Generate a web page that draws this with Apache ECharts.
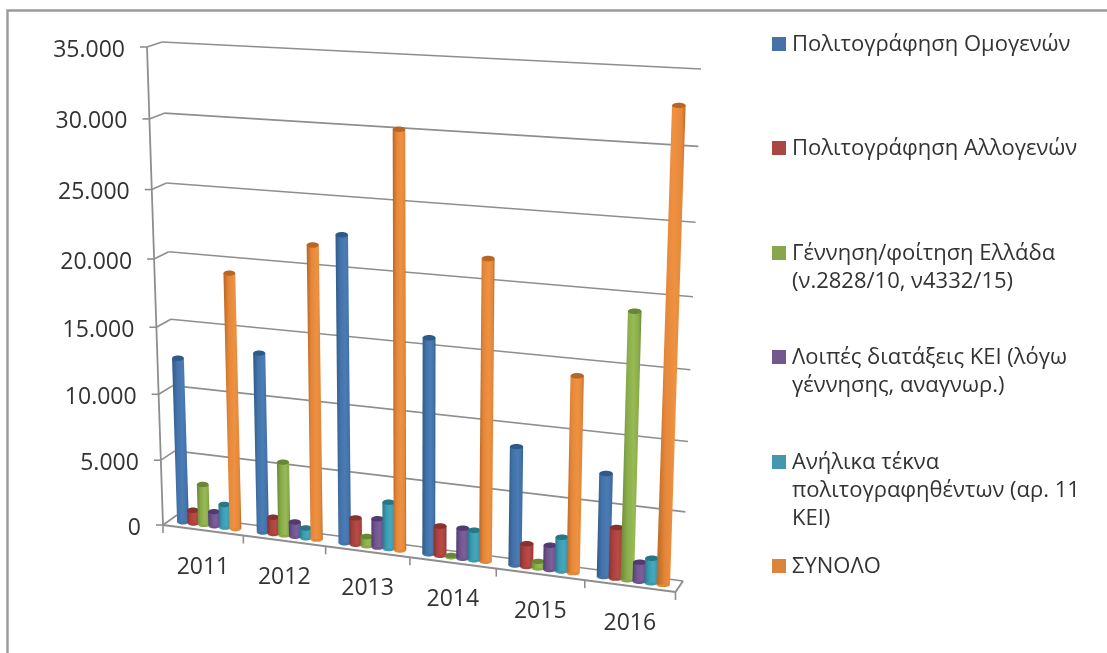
<!DOCTYPE html>
<html>
<head>
<meta charset="utf-8">
<style>
  html, body { margin: 0; padding: 0; background: #fff; }
  #chart_bar3d { width: 1107px; height: 653px; }
</style>
<script src="https://cdn.jsdelivr.net/npm/echarts@6/dist/echarts.min.js"></script>
</head>
<body>
<div id="chart_bar3d"></div>
<script>
// Datos
const years = ['2011', '2012', '2013', '2014', '2015', '2016'];
const yTicks = [0, 5000, 10000, 15000, 20000, 25000, 30000, 35000];
const yTickLabels = ['0', '5.000', '10.000', '15.000', '20.000', '25.000', '30.000', '35.000'];

const omogenon = [12500, 13500, 22600, 15850, 8700, 7500];
const allogenon = [1000, 1250, 2000, 2200, 1700, 3700];
const gennisi = [3100, 5550, 700, 100, 500, 19050];
const loipes = [1100, 1100, 2150, 2250, 1800, 1400];
const anilika = [1750, 750, 3500, 2200, 2500, 1800];
const synolo = [19150, 21700, 30200, 21800, 14200, 32950];

const seriesNames = [
    'Πολιτογράφηση Ομογενών',
    'Πολιτογράφηση Αλλογενών',
    'Γέννηση/φοίτηση Ελλάδα\n(ν.2828/10, ν4332/15)',
    'Λοιπές διατάξεις ΚΕΙ (λόγω\nγέννησης, αναγνωρ.)',
    'Ανήλικα τέκνα\nπολιτογραφηθέντων (αρ. 11\nΚΕΙ)',
    'ΣΥΝΟΛΟ'
];
const seriesValues = [omogenon, allogenon, gennisi, loipes, anilika, synolo];

// colores: [oscuro, medio, claro, leyenda]
const palette = [
    ['#2f5a88', '#4272a8', '#4a7cb6', '#4573a7'],
    ['#853230', '#ab413e', '#b94a47', '#aa4644'],
    ['#688733', '#88aa4a', '#98bb55', '#89a54e'],
    ['#523b70', '#70548f', '#7d5f9e', '#71588f'],
    ['#277787', '#3b9ab0', '#44a8bf', '#4298af'],
    ['#b86623', '#e5873a', '#ee9140', '#db843d']
];

const FONT = '"Open Sans", sans-serif';
const TEXT_COLOR = '#333333';
const LINE_COLOR = '#8e8e8e';

// Esquinas del grafico en perspectiva: pared del fondo y plano frontal
// orden: abajo-izq, abajo-der, arriba-der, arriba-izq
const backQuad = [[177, 515], [683, 581], [701, 69], [162, 42]];
const frontQuad = [[163, 525], [675.5, 592], [693, 80], [147, 47]];

// Homografia cuadrado unidad -> cuadrilatero
function makeHomography(q) {
    const [x0, y0] = q[0], [x1, y1] = q[1], [x2, y2] = q[2], [x3, y3] = q[3];
    const dx1 = x1 - x2, dx2 = x3 - x2, sx = x0 - x1 + x2 - x3;
    const dy1 = y1 - y2, dy2 = y3 - y2, sy = y0 - y1 + y2 - y3;
    const det = dx1 * dy2 - dx2 * dy1;
    const g = (sx * dy2 - dx2 * sy) / det;
    const h = (dx1 * sy - sx * dy1) / det;
    const a = x1 - x0 + g * x1, b = x3 - x0 + h * x3;
    const d = y1 - y0 + g * y1, e = y3 - y0 + h * y3;
    return function (u, v) {
        const w = g * u + h * v + 1;
        return [(a * u + b * v + x0) / w, (d * u + e * v + y0) / w];
    };
}
const backPlane = makeHomography(backQuad);
const frontPlane = makeHomography(frontQuad);

// u: 0..1 a lo largo de las categorias, v: 0..1 en altura, depth: 0 frente, 1 fondo
function project(u, v, depth) {
    const f = frontPlane(u, v);
    const b = backPlane(u, v);
    return [f[0] + (b[0] - f[0]) * depth, f[1] + (b[1] - f[1]) * depth];
}

// La rejilla cubre todo el lienzo: los ejes ocultos dan u y v a traves de api.coord
function toUnit(api, cat, value) {
    const p = api.coord([cat, value]);
    return { u: p[0] / api.getWidth(), v: 1 - p[1] / api.getHeight() };
}

function renderBar(s) {
    return function (params, api) {
        const cat = api.value(0);
        const val = api.value(1);
        const top = toUnit(api, cat, val);
        const base = toUnit(api, cat, 0);
        // desplazamiento de cada barra dentro de su categoria
        const band = 1 / years.length;
        const du = (0.165 + 0.132 * s - 0.5) * band;
        const pBase = project(base.u + du, base.v, 0.5);
        const pTop = project(top.u + du, top.v, 0.5);
        // un poco mas anchas hacia la derecha, como en la perspectiva
        const halfW = 5.9 + 0.18 * cat;
        const ry = 2.7;
        const colors = palette[s];
        return {
            type: 'group',
            children: [
                {
                    type: 'ellipse',
                    shape: { cx: pBase[0], cy: pBase[1], rx: halfW, ry: ry },
                    style: { fill: colors[1] }
                },
                {
                    type: 'polygon',
                    shape: {
                        points: [
                            [pTop[0] - halfW, pTop[1]],
                            [pTop[0] + halfW, pTop[1]],
                            [pBase[0] + halfW, pBase[1]],
                            [pBase[0] - halfW, pBase[1]]
                        ]
                    },
                    style: {
                        fill: new echarts.graphic.LinearGradient(0, 0, 1, 0, [
                            { offset: 0, color: colors[0] },
                            { offset: 0.3, color: colors[1] },
                            { offset: 0.62, color: colors[2] },
                            { offset: 0.88, color: colors[1] },
                            { offset: 1, color: colors[0] }
                        ])
                    }
                },
                {
                    type: 'ellipse',
                    shape: { cx: pTop[0], cy: pTop[1], rx: halfW, ry: ry },
                    style: { fill: colors[0] }
                }
            ]
        };
    };
}

function line(p1, p2, width) {
    return {
        type: 'line',
        shape: { x1: p1[0], y1: p1[1], x2: p2[0], y2: p2[1] },
        style: { stroke: LINE_COLOR, lineWidth: width || 1.6 }
    };
}

// Paredes: lineas de valor, marcas y etiquetas del eje Y
function renderWall(params, api) {
    const val = api.value(0);
    const idx = params.dataIndex;
    const v = toUnit(api, 0, val).v;
    const front = project(0, v, 0);
    const backL = project(0, v, 1);
    const backR = project(1, v, 1);
    return {
        type: 'group',
        children: [
            line(backL, backR),
            line(front, backL),
            line([front[0] - 7, front[1]], front),
            {
                type: 'text',
                style: {
                    x: front[0] - 22,
                    y: front[1] + 3,
                    text: yTickLabels[idx],
                    align: 'right',
                    verticalAlign: 'middle',
                    font: '23px ' + FONT,
                    fill: TEXT_COLOR
                }
            }
        ]
    };
}

// Suelo: marcas y etiquetas del eje X
function renderFloor(params, api) {
    const cat = api.value(0);
    const pos = toUnit(api, cat, 0);
    const band = 1 / years.length;
    const tick = project(pos.u + band / 2, pos.v, 0);
    const mid = project(pos.u, pos.v, 0);
    const children = [
        line(tick, [tick[0], tick[1] + 8]),
        {
            type: 'text',
            style: {
                x: mid[0],
                y: mid[1] + 37,
                text: years[cat],
                align: 'center',
                verticalAlign: 'middle',
                font: '23px ' + FONT,
                fill: TEXT_COLOR
            }
        }
    ];
    if (cat === 0) {
        const first = project(0, pos.v, 0);
        children.push(line(first, [first[0], first[1] + 8]));
    }
    return { type: 'group', children: children };
}

function renderFloorEdges(params, api) {
    const v = toUnit(api, 0, 0).v;
    return {
        type: 'group',
        children: [
            line(project(0, v, 0), project(1, v, 0), 2),
            line(project(1, v, 0), project(1, v, 1), 2),
            line(project(0, 0, 0), project(0, 1, 0), 1.8)
        ]
    };
}

const series = [
    { type: 'custom', name: 'pared', silent: true, renderItem: renderWall, data: yTicks.map(t => [t]), encode: { y: 0 }, z: 1 },
    { type: 'custom', name: 'suelo', silent: true, renderItem: renderFloorEdges, data: [[0]], z: 1 },
    { type: 'custom', name: 'categorias', silent: true, renderItem: renderFloor, data: years.map((y, i) => [i]), z: 1 }
];
seriesValues.forEach((vals, s) => {
    series.push({
        type: 'custom',
        name: seriesNames[s],
        renderItem: renderBar(s),
        data: vals.map((v, i) => [i, v]),
        encode: { x: 0, y: 1 },
        z: 2
    });
});

// Leyenda y marco
const legendY = [44, 148, 253, 357, 462, 566];
const graphics = [
    {
        type: 'polyline',
        shape: { points: [[7.5, 653], [7.5, 10.5], [1107, 10.5]] },
        style: { stroke: '#9a9a9a', fill: null, lineWidth: 2.4 }
    }
];
seriesNames.forEach((name, s) => {
    graphics.push({
        type: 'rect',
        shape: { x: 772, y: legendY[s] - 7, width: 14, height: 14 },
        style: { fill: palette[s][3] }
    });
    graphics.push({
        type: 'text',
        style: {
            x: 792,
            y: legendY[s] - 13,
            text: name,
            font: '22px ' + FONT,
            lineHeight: 28,
            fill: TEXT_COLOR
        }
    });
});

const chart = echarts.init(document.getElementById('chart_bar3d'));
chart.setOption({
    animation: false,
    backgroundColor: '#ffffff',
    grid: { left: 0, right: 0, top: 0, bottom: 0 },
    xAxis: { type: 'category', data: years, show: false, boundaryGap: true },
    yAxis: { type: 'value', min: 0, max: 35000, interval: 5000, show: false },
    graphic: graphics,
    series: series
});
</script>
</body>
</html>
